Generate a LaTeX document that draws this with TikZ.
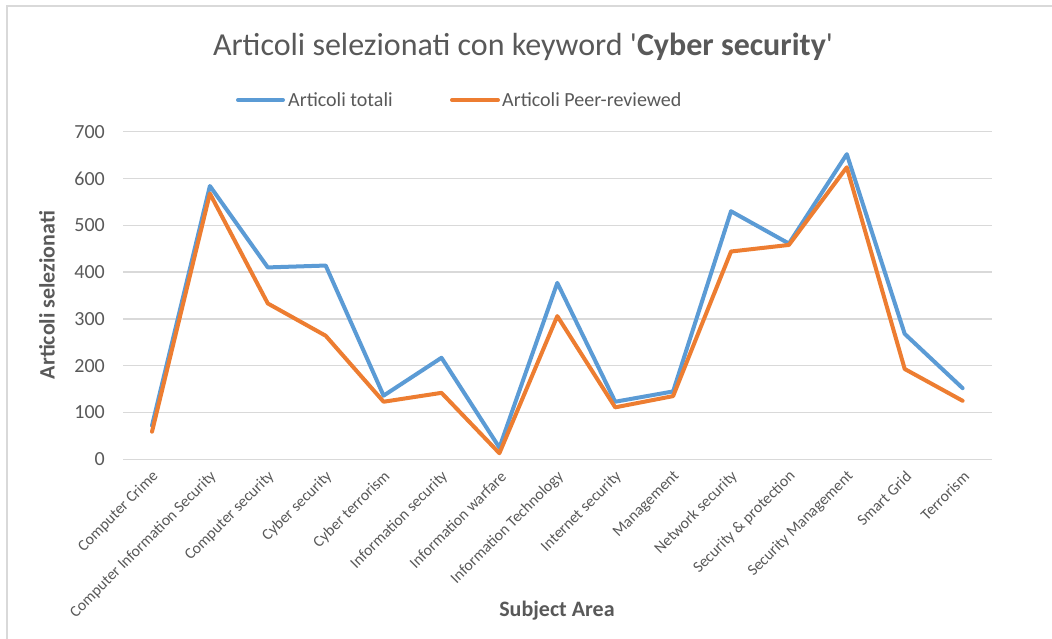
\documentclass[tikz,border=0pt]{standalone}
\usepackage{fontspec}
\setmainfont{Carlito}
\newfontfamily\plainfont{Carlito}[Ligatures=TeXOff]
\definecolor{txt}{HTML}{595959}
\definecolor{gridc}{HTML}{D9D9D9}
\definecolor{sblue}{HTML}{5B9BD5}
\definecolor{sorange}{HTML}{ED7D31}
\begin{document}
\begin{tikzpicture}[x=1pt,y=-1pt,
  gridline/.style={draw=gridc,line width=1.2pt},
  frameline/.style={draw=gridc,line width=2pt},
  ticklabel/.style={text=txt,font=\fontsize{20}{20}\selectfont,inner sep=0pt,anchor=east},
  catlabel/.style={text=txt,font=\fontsize{15.8}{16}\selectfont,inner sep=0pt,anchor=east,rotate=45},
  axtitle/.style={text=txt,font=\fontsize{22}{22}\selectfont\bfseries,inner sep=0pt},
  legtext/.style={text=txt,font=\fontsize{20}{20}\selectfont,inner sep=0pt,anchor=west},
  serblue/.style={draw=sblue,line width=4pt,line join=round,line cap=round},
  serorange/.style={draw=sorange,line width=4pt,line join=round,line cap=round}]
\useasboundingbox (0,0) rectangle (1052,639);
\fill[white] (0,0) rectangle (1052,639);
\draw[frameline] (7,639) -- (7,6) -- (1052,6);
% title
\node[text=txt,font=\plainfont\fontsize{32}{32}\selectfont,inner sep=0pt] (title) at (523,47)
  {Articoli selezionati con keyword '\textbf{Cyber security}'};
% legend
\coordinate (lb1) at (238,100); \coordinate (lb2) at (283,100);
\coordinate (lo1) at (452,100); \coordinate (lo2) at (498,100);
\draw[serblue] (lb1) -- (lb2);
\draw[serorange] (lo1) -- (lo2);
\node[legtext] (legb) at (288,100) {Articoli totali};
\node[legtext] (lego) at (502,100) {Articoli Peer-reviewed};
% grid and ticks
\foreach \v in {0,100,...,700}{
  \draw[gridline] (123,{459.3-0.468*\v}) -- (992,{459.3-0.468*\v});
  \node[ticklabel] (tick\v) at (105,{459.3-0.468*\v}) {\v};
}
% categories
\foreach \i/\name in {1/Computer Crime,2/Computer Information Security,3/Computer security,4/Cyber security,5/Cyber terrorism,6/Information security,7/Information warfare,8/Information Technology,9/Internet security,10/Management,11/Network security,12/Security \& protection,13/Security Management,14/Smart Grid,15/Terrorism}{
  \node[catlabel] (cat\i) at ({152+57.9*(\i-1)+4},474) {\name};
}
% axis titles
\node[axtitle,rotate=90] (ytitle) at (47,295) {Articoli selezionati};
\node[axtitle] (xtitle) at (557,611) {Subject Area};
% data points
\foreach \i/\b/\o in {1/72/59,2/584/568,3/410/333,4/414/264,5/136/123,6/217/142,7/25/13,8/377/306,9/123/111,10/145/135,11/530/444,12/461/458,13/652/624,14/268/193,15/152/125}{
  \coordinate (b\i) at ({152+57.9*(\i-1)},{459.3-0.468*\b});
  \coordinate (o\i) at ({152+57.9*(\i-1)},{459.3-0.468*\o});
}
\draw[serblue] (b1)--(b2)--(b3)--(b4)--(b5)--(b6)--(b7)--(b8)--(b9)--(b10)--(b11)--(b12)--(b13)--(b14)--(b15);
\draw[serorange] (o1)--(o2)--(o3)--(o4)--(o5)--(o6)--(o7)--(o8)--(o9)--(o10)--(o11)--(o12)--(o13)--(o14)--(o15);
\end{tikzpicture}
\end{document}
